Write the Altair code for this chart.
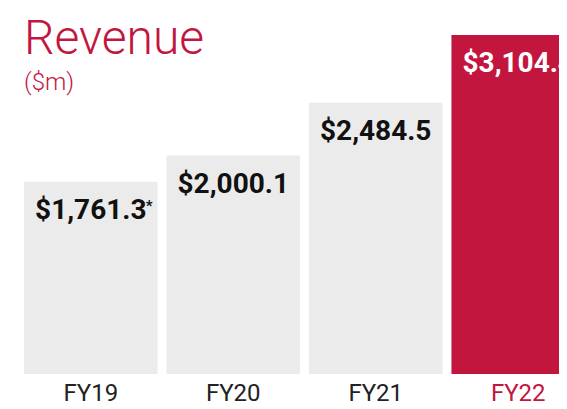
import altair as alt
import pandas as pd

years = ["FY19", "FY20", "FY21", "FY22"]
revenue = [1761.3, 2000.1, 2484.5, 3104.4]
labels = ["$1,761.3", "$2,000.1", "$2,484.5", "$3,104.4"]
notes = ["*", "", "", ""]
highlight = "FY22"

title_text = ["Revenue"]
subtitle_text = ["($m)"]

CRIMSON = "#C3163F"
GRAY = "#EBEBEB"

df = pd.DataFrame({"year": years, "revenue": revenue, "label": labels, "note": notes})
tdf = pd.DataFrame({"t": title_text})
sdf = pd.DataFrame({"t": subtitle_text})

is_hl = f"datum.year == '{highlight}'"

x = alt.X(
    "year:N",
    sort=years,
    scale=alt.Scale(range=[16, 577], paddingInner=0.0625, paddingOuter=0),
    axis=alt.Axis(
        title=None,
        domain=False,
        ticks=False,
        tickSize=0,
        grid=False,
        labelAngle=0,
        labelFont="Roboto",
        labelFontSize=24,
        labelBaseline="alphabetic",
        labelPadding=26,
        labelColor={"condition": {"test": f"datum.value == '{highlight}'", "value": CRIMSON}, "value": "#222222"},
    ),
)
y = alt.Y("revenue:Q", scale=alt.Scale(nice=False, zero=True), axis=None)

base = alt.Chart(df).encode(x=x, y=y)

bars = base.mark_bar(clip=True).encode(
    color=alt.condition(is_hl, alt.value(CRIMSON), alt.value(GRAY))
)

vals = base.mark_text(
    clip=True, font="Roboto", fontSize=28, fontWeight="bold", baseline="alphabetic", dy=37
).encode(
    text="label:N",
    color=alt.condition(is_hl, alt.value("white"), alt.value("#111111")),
)

ast = base.mark_text(
    font="Roboto", fontSize=15, fontWeight="bold", baseline="alphabetic", align="left", dx=55, dy=29, color="#111111"
).encode(text="note:N")

title = alt.Chart(tdf).mark_text(
    font="Roboto", fontSize=48, fontWeight=300, align="left", baseline="alphabetic", color=CRIMSON
).encode(text="t:N", x=alt.value(16), y=alt.value(19))

subtitle = alt.Chart(sdf).mark_text(
    font="Roboto", fontSize=24, fontWeight=300, align="left", baseline="alphabetic", color=CRIMSON
).encode(text="t:N", x=alt.value(16), y=alt.value(55))

chart = (
    alt.layer(bars, vals, ast, title, subtitle)
    .properties(
        width=551,
        height=339,
        padding={"left": 0, "top": 27, "right": 0, "bottom": 27},
        autosize=alt.AutoSizeParams(type="none"),
    )
    .configure(background="white")
    .configure_view(stroke=None, strokeWidth=0)
)

chart.save("out.html", embed_options={"renderer": "svg", "actions": False})
